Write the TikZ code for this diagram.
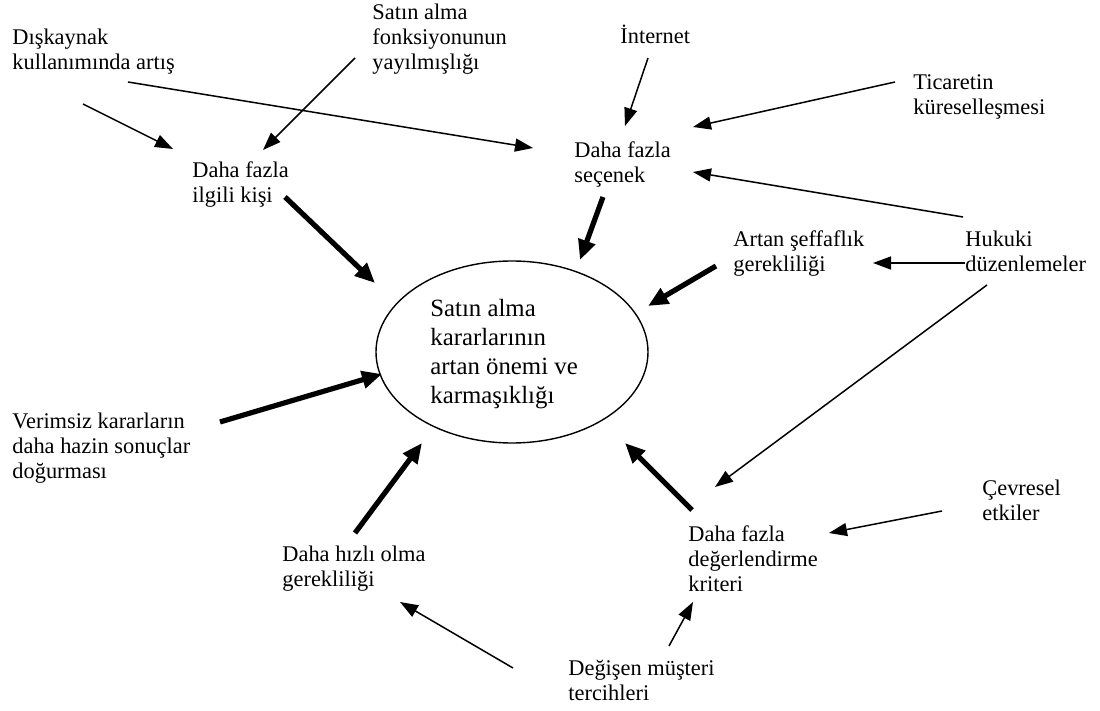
\documentclass[tikz,border=0pt]{standalone}
\usepackage{fontspec}
\setmainfont{Liberation Serif}
\usetikzlibrary{arrows.meta,shapes.geometric}
\begin{document}
\begin{tikzpicture}[x=0.5pt,y=-0.5pt,
  % labels are placed by the baseline of their last line
  lbl/.style={anchor=base west, inner sep=0pt, align=left,
              font=\fontsize{11.2}{12.5}\selectfont},
  core/.style={ellipse, draw, line width=0.7pt, inner sep=0pt,
               minimum width=136pt, minimum height=91pt},
  coretext/.style={anchor=base west, inner sep=0pt, align=left,
              font=\fontsize{12.4}{14.5}\selectfont},
  thinarrow/.style={line width=0.75pt, -{Triangle[length=9pt,width=6.5pt]}},
  thickarrow/.style={line width=2.6pt, -{Triangle[length=10pt,width=8.5pt]}},
]
\useasboundingbox (0,0) rectangle (1100,711);

% central concept
\node[core] (ell) at (512,352) {};
\node[coretext] (elltext) at (430,404)
  {Satın alma\\kararlarının\\artan önemi ve\\karmaşıklığı};

% factors
\node[lbl] (dis)  at (12,70)   {Dışkaynak\\kullanımında artış};
\node[lbl] (sat)  at (372,70)  {Satın alma\\fonksiyonunun\\yayılmışlığı};
\node[lbl] (inet) at (620,44)  {İnternet};
\node[lbl] (tic)  at (913,115) {Ticaretin\\küreselleşmesi};
\node[lbl] (ilg)  at (192,203) {Daha fazla\\ilgili kişi};
\node[lbl] (sec)  at (574,183) {Daha fazla\\seçenek};
\node[lbl] (art)  at (733,272) {Artan şeffaflık\\gerekliliği};
\node[lbl] (huk)  at (965,272) {Hukuki\\düzenlemeler};
\node[lbl] (ver)  at (12,479)  {Verimsiz kararların\\daha hazin sonuçlar\\doğurması};
\node[lbl] (hiz)  at (282,587) {Daha hızlı olma\\gerekliliği};
\node[lbl] (deg)  at (688,592) {Daha fazla\\değerlendirme\\kriteri};
\node[lbl] (cev)  at (982,521) {Çevresel\\etkiler};
\node[lbl] (mus)  at (568,701) {Değişen müşteri\\tercihleri};

% connector end points
\coordinate (dis-a) at (83,104);   \coordinate (ilg-a) at (173,149);
\coordinate (dis-b) at (128,82);   \coordinate (sec-a) at (533,148);
\coordinate (sat-a) at (355,58);   \coordinate (ilg-b) at (263,150);
\coordinate (inet-a) at (648,58);  \coordinate (sec-b) at (625,126);
\coordinate (tic-a) at (895,82);   \coordinate (sec-c) at (693,127);
\coordinate (huk-a) at (963,217);  \coordinate (sec-d) at (693,172);
\coordinate (huk-b) at (965,263);  \coordinate (art-a) at (873,263);
\coordinate (huk-c) at (987,285);  \coordinate (deg-a) at (715,487);
\coordinate (cev-a) at (942,511);  \coordinate (deg-b) at (829,533);
\coordinate (mus-a) at (513,668);  \coordinate (hiz-a) at (400,602);
\coordinate (mus-b) at (669,646);  \coordinate (deg-c) at (693,602);

\coordinate (ilg-o) at (285,197);  \coordinate (ell-a) at (375,283);
\coordinate (sec-o) at (603,197);  \coordinate (ell-b) at (580,260);
\coordinate (art-o) at (716,266);  \coordinate (ell-c) at (648,306);
\coordinate (ver-o) at (220,422);  \coordinate (ell-d) at (382,374);
\coordinate (hiz-o) at (355,533);  \coordinate (ell-e) at (422,443);
\coordinate (deg-o) at (692,510);  \coordinate (ell-f) at (625,443);

% secondary influences
\draw[thinarrow] (dis-a) -- (ilg-a);
\draw[thinarrow] (dis-b) -- (sec-a);
\draw[thinarrow] (sat-a) -- (ilg-b);
\draw[thinarrow] (inet-a) -- (sec-b);
\draw[thinarrow] (tic-a) -- (sec-c);
\draw[thinarrow] (huk-a) -- (sec-d);
\draw[thinarrow] (huk-b) -- (art-a);
\draw[thinarrow] (huk-c) -- (deg-a);
\draw[thinarrow] (cev-a) -- (deg-b);
\draw[thinarrow] (mus-a) -- (hiz-a);
\draw[thinarrow] (mus-b) -- (deg-c);

% direct influences on the central concept
\draw[thickarrow] (ilg-o) -- (ell-a);
\draw[thickarrow] (sec-o) -- (ell-b);
\draw[thickarrow] (art-o) -- (ell-c);
\draw[thickarrow] (ver-o) -- (ell-d);
\draw[thickarrow] (hiz-o) -- (ell-e);
\draw[thickarrow] (deg-o) -- (ell-f);
\end{tikzpicture}
\end{document}
